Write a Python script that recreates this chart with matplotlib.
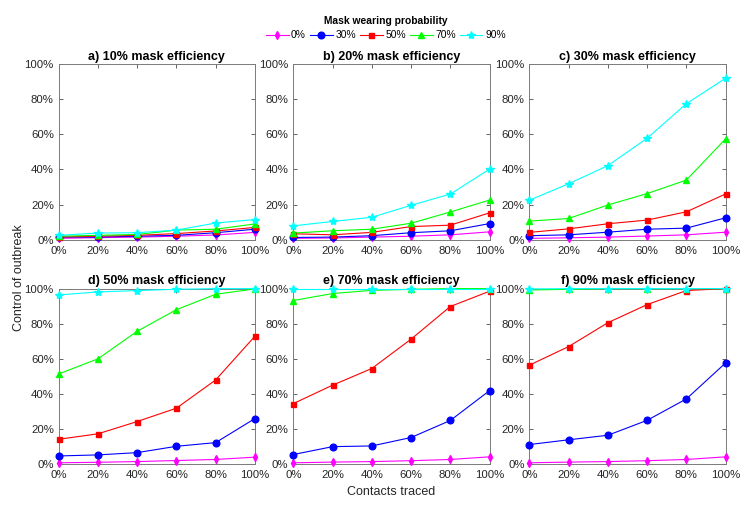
import numpy as np
import matplotlib
matplotlib.use('Agg')
import matplotlib.pyplot as plt

plt.rcParams['font.family'] = ['Liberation Sans', 'DejaVu Sans']

# Data (percent)
traced = [0, 20, 40, 60, 80, 100]
wearing = ['0%', '30%', '50%', '70%', '90%']
titles = ['a) 10% mask efficiency', 'b) 20% mask efficiency', 'c) 30% mask efficiency',
          'd) 50% mask efficiency', 'e) 70% mask efficiency', 'f) 90% mask efficiency']

eff10 = [[0.8, 1.2, 1.5, 2.0, 2.7, 4.2],
         [1.5, 1.5, 2.0, 2.5, 4.0, 6.0],
         [1.5, 2.0, 2.5, 3.5, 5.0, 7.0],
         [2.0, 2.5, 3.0, 5.5, 6.0, 9.0],
         [2.5, 3.8, 4.0, 5.5, 9.5, 11.5]]
eff20 = [[0.8, 1.0, 1.5, 2.0, 2.8, 4.5],
         [1.3, 1.5, 2.3, 4.0, 5.1, 9.2],
         [3.4, 2.8, 4.2, 7.5, 8.3, 15.3],
         [3.8, 5.1, 6.0, 9.4, 15.8, 22.6],
         [7.9, 10.4, 12.8, 19.6, 26.0, 40.2]]
eff30 = [[0.8, 1.1, 1.5, 2.1, 2.8, 4.3],
         [2.3, 2.8, 4.3, 6.0, 6.6, 12.5],
         [4.2, 6.2, 9.1, 11.2, 15.9, 26.1],
         [10.6, 12.1, 19.8, 26.3, 34.0, 57.5],
         [22.5, 31.9, 42.2, 57.8, 77.5, 92.0]]
eff50 = [[0.8, 1.1, 1.5, 2.1, 2.7, 4.0],
         [4.7, 5.3, 6.6, 10.2, 12.3, 26.0],
         [14.2, 17.3, 24.3, 31.9, 48.0, 72.9],
         [51.4, 60.0, 75.7, 88.0, 96.8, 99.8],
         [96.4, 98.1, 98.9, 99.6, 100, 100]]
eff70 = [[0.8, 1.2, 1.5, 2.0, 2.7, 4.2],
         [5.5, 10.0, 10.4, 15.2, 24.9, 41.9],
         [34.5, 45.0, 54.5, 71.2, 89.8, 98.5],
         [93.2, 97.2, 99.0, 99.6, 100, 100],
         [100, 100, 100, 100, 100, 100]]
eff90 = [[0.8, 1.2, 1.5, 2.0, 2.7, 4.2],
         [11.2, 13.9, 16.5, 25.0, 37.2, 57.7],
         [56.4, 67.0, 80.6, 90.9, 98.9, 100],
         [99.2, 99.6, 100, 100, 100, 100],
         [99.8, 100, 100, 100, 100, 100]]
panels = [eff10, eff20, eff30, eff50, eff70, eff90]

colors = ['#ff00ff', '#0000ff', '#ff0000', '#00ff00', '#00ffff']
markers = ['d', 'o', 's', '^', '*']
msizes = [4, 4.8, 3.6, 4.8, 6]

fig = plt.figure(figsize=(7.52, 5.09), dpi=100)

lefts = [0.078, 0.390, 0.704]
bottoms = [0.529, 0.088]
w, h = 0.261, 0.345

ticks = [0, 20, 40, 60, 80, 100]
ticklabels = ['%d%%' % t for t in ticks]

for i, data in enumerate(panels):
    ax = fig.add_axes([lefts[i % 3], bottoms[i // 3], w, h])
    for j, ys in enumerate(data):
        ax.plot(traced, ys, color=colors[j], marker=markers[j], ms=msizes[j],
                lw=0.8, label=wearing[j], clip_on=False, zorder=3)
    ax.set_xlim(0, 100)
    ax.set_ylim(0, 100)
    ax.set_xticks(ticks)
    ax.set_xticklabels(ticklabels)
    ax.set_yticks(ticks)
    ax.set_yticklabels(ticklabels)
    ax.tick_params(direction='in', length=3, width=0.5, labelsize=8.2,
                   colors='#262626', top=True, right=True)
    ax.tick_params(axis='x', pad=4.5)
    ax.tick_params(axis='y', pad=3.5)
    for s in ax.spines.values():
        s.set_color('#7a7a7a')
        s.set_linewidth(0.7)
    ax.set_title(titles[i], fontsize=9, fontweight='bold', pad=3)
    if i == 0:
        handles, labels = ax.get_legend_handles_labels()

fig.legend(handles, labels, loc='upper center', bbox_to_anchor=(0.513, 0.981),
           ncol=5, frameon=False, fontsize=7.4, title='Mask wearing probability',
           title_fontproperties={'weight': 'bold', 'size': 7.4},
           handlelength=2.2, columnspacing=0.4, handletextpad=0.25, borderpad=0.1,
           labelspacing=0.45)

fig.text(0.025, 0.455, 'Control of outbreak', rotation=90, ha='center', va='center',
         fontsize=9, color='#262626')
fig.text(0.52, 0.033, 'Contacts traced', ha='center', va='center',
         fontsize=9, color='#262626')

fig.savefig('out.png', dpi=100)
